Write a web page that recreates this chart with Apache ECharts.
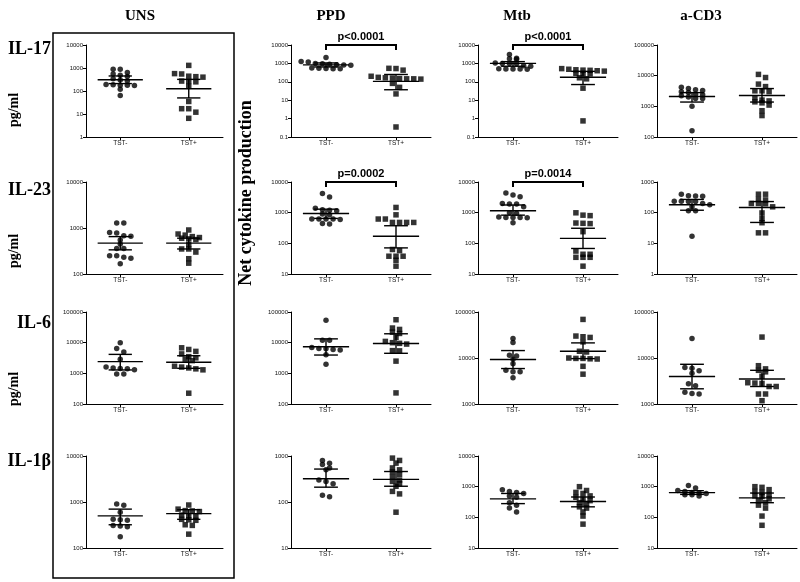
<!DOCTYPE html>
<html><head><meta charset="utf-8">
<script src="https://cdn.jsdelivr.net/npm/echarts@6/dist/echarts.min.js"></script>
<style>html,body{margin:0;padding:0;background:#fff}#c{width:800px;height:582px}</style>
</head><body><div id="c"></div>
<script>
const columns = ['UNS', 'PPD', 'Mtb', 'a-CD3'];
const cytokines = ['IL-17', 'IL-23', 'IL-6', 'IL-1β'];
const groups = ['TST-', 'TST+'];
const yMin = [[1, 0.1, 0.1, 100], [100, 10, 10, 1], [100, 100, 1000, 1000], [100, 10, 10, 10]];
const yMax = [[1e4, 1e4, 1e4, 1e5], [1e4, 1e4, 1e4, 1e3], [1e5, 1e5, 1e5, 1e5], [1e4, 1e3, 1e4, 1e4]];

// values per panel; *_bar = [centre, lower, upper]
const il17_uns_neg = [880, 880, 630, 550, 480, 430, 340, 300, 270, 190, 185, 180, 180, 175, 118, 63];
const il17_uns_pos = [1300, 570, 550, 440, 420, 400, 270, 260, 250, 160, 35, 17, 17, 12, 6.5];
const il17_uns_negBar = [310, 210, 450], il17_uns_posBar = [126, 50, 320];
const il17_ppd_neg = [2080, 1250, 1200, 1000, 950, 900, 850, 830, 800, 560, 540, 530, 520, 510];
const il17_ppd_pos = [540, 525, 430, 200, 175, 165, 160, 150, 145, 145, 140, 82, 50, 22, 0.35];
const il17_ppd_negBar = [830, 640, 1060], il17_ppd_posBar = [106, 37, 250];
const il17_mtb_neg = [3000, 1900, 1800, 1700, 1050, 1000, 1000, 950, 750, 700, 520, 500, 500, 490, 480];
const il17_mtb_pos = [520, 480, 450, 430, 420, 400, 380, 290, 280, 270, 165, 145, 45, 0.75];
const il17_mtb_negBar = [1000, 700, 1250], il17_mtb_posBar = [178, 71, 370];
const il17_cd3_neg = [4200, 3800, 3500, 3300, 3000, 2800, 2500, 2400, 2200, 2000, 1800, 1800, 1000, 160];
const il17_cd3_pos = [11000, 8700, 5300, 4400, 3200, 3200, 3000, 1900, 1600, 1500, 1400, 1300, 1100, 720, 500];
const il17_cd3_negBar = [2100, 1380, 2800], il17_cd3_posBar = [2250, 1380, 3800];

const il23_uns_neg = [1280, 1280, 800, 780, 680, 660, 550, 450, 360, 360, 250, 250, 230, 220, 167];
const il23_uns_pos = [905, 740, 700, 650, 620, 600, 580, 560, 435, 350, 350, 300, 215, 172];
const il23_uns_negBar = [470, 335, 650], il23_uns_posBar = [470, 350, 600];
const il23_ppd_neg = [4200, 3250, 1400, 1250, 1200, 1150, 900, 850, 620, 620, 620, 620, 600, 440, 425];
const il23_ppd_pos = [1480, 850, 620, 620, 480, 480, 480, 480, 63, 58, 38, 38, 38, 28, 18];
const il23_ppd_negBar = [940, 650, 1300], il23_ppd_posBar = [170, 71, 375];
const il23_mtb_neg = [4400, 3800, 3300, 2000, 1900, 1900, 1560, 1000, 950, 720, 700, 700, 700, 680, 470];
const il23_mtb_pos = [990, 830, 800, 460, 450, 440, 240, 56, 44, 44, 35, 35, 35, 18];
const il23_mtb_negBar = [1150, 830, 1780], il23_mtb_posBar = [145, 68, 310];
const il23_cd3_neg = [400, 355, 350, 340, 235, 235, 230, 230, 200, 180, 155, 115, 115, 17];
const il23_cd3_pos = [400, 400, 270, 260, 200, 200, 195, 155, 98, 65, 47, 22, 22];
const il23_cd3_negBar = [182, 120, 270], il23_cd3_posBar = [148, 48, 230];

const il6_uns_neg = [10000, 6500, 5000, 2900, 1600, 1500, 1450, 1400, 1300, 960, 950];
const il6_uns_pos = [6800, 6000, 5200, 4300, 3500, 3200, 2900, 2600, 1700, 1600, 1500, 1400, 1300, 225];
const il6_uns_negBar = [2400, 1290, 4150], il6_uns_posBar = [2300, 1460, 3750];
const il6_ppd_neg = [54000, 12000, 12000, 7000, 6500, 6300, 6000, 5800, 4000, 1960];
const il6_ppd_pos = [56000, 30000, 27000, 22000, 20000, 15000, 11000, 10000, 9500, 9000, 5500, 5400, 2500, 230];
const il6_ppd_negBar = [7400, 3950, 13300], il6_ppd_posBar = [9400, 4500, 19500];
const il6_mtb_neg = [26500, 21700, 11500, 11000, 9400, 7500, 5400, 5000, 5000, 3700];
const il6_mtb_pos = [69000, 30000, 29000, 28000, 22400, 14000, 13500, 10000, 9800, 9800, 9600, 9500, 6600, 4450];
const il6_mtb_negBar = [9300, 5900, 14500], il6_mtb_posBar = [14000, 9700, 21300];
const il6_cd3_neg = [26500, 6200, 6000, 5300, 4650, 2750, 2500, 1800, 1700, 1650];
const il6_cd3_pos = [28500, 6800, 5800, 5400, 5000, 4000, 2900, 2850, 2800, 2400, 2400, 1650, 1650, 1180];
const il6_cd3_negBar = [3950, 2140, 7300], il6_cd3_posBar = [3500, 2400, 5400];

const il1b_uns_neg = [900, 850, 600, 420, 410, 400, 310, 300, 290, 175];
const il1b_uns_pos = [860, 700, 650, 640, 620, 520, 500, 480, 420, 410, 400, 320, 310, 200];
const il1b_uns_negBar = [500, 320, 700], il1b_uns_posBar = [560, 420, 680];
const il1b_ppd_neg = [800, 700, 650, 550, 500, 300, 280, 250, 140, 130];
const il1b_ppd_pos = [900, 800, 700, 550, 500, 450, 400, 350, 300, 280, 250, 220, 170, 150, 60];
const il1b_ppd_negBar = [320, 210, 520], il1b_ppd_posBar = [310, 220, 460];
const il1b_mtb_neg = [800, 700, 650, 600, 500, 450, 300, 250, 200, 150];
const il1b_mtb_pos = [1000, 750, 650, 600, 500, 450, 400, 350, 300, 280, 220, 200, 150, 110, 60];
const il1b_mtb_negBar = [400, 280, 600], il1b_mtb_posBar = [330, 220, 460];
const il1b_cd3_neg = [1100, 900, 750, 700, 650, 620, 600, 550, 550, 500];
const il1b_cd3_pos = [1000, 950, 800, 700, 650, 550, 500, 480, 400, 350, 300, 250, 200, 110, 55];
const il1b_cd3_negBar = [640, 560, 740], il1b_cd3_posBar = [430, 300, 620];

const pValues = [
  { row: 0, col: 1, text: 'p<0.0001' },
  { row: 0, col: 2, text: 'p<0.0001' },
  { row: 1, col: 1, text: 'p=0.0002' },
  { row: 1, col: 2, text: 'p=0.0014' }
];

const panelData = [
  [[il17_uns_neg, il17_uns_pos, il17_uns_negBar, il17_uns_posBar], [il17_ppd_neg, il17_ppd_pos, il17_ppd_negBar, il17_ppd_posBar],
   [il17_mtb_neg, il17_mtb_pos, il17_mtb_negBar, il17_mtb_posBar], [il17_cd3_neg, il17_cd3_pos, il17_cd3_negBar, il17_cd3_posBar]],
  [[il23_uns_neg, il23_uns_pos, il23_uns_negBar, il23_uns_posBar], [il23_ppd_neg, il23_ppd_pos, il23_ppd_negBar, il23_ppd_posBar],
   [il23_mtb_neg, il23_mtb_pos, il23_mtb_negBar, il23_mtb_posBar], [il23_cd3_neg, il23_cd3_pos, il23_cd3_negBar, il23_cd3_posBar]],
  [[il6_uns_neg, il6_uns_pos, il6_uns_negBar, il6_uns_posBar], [il6_ppd_neg, il6_ppd_pos, il6_ppd_negBar, il6_ppd_posBar],
   [il6_mtb_neg, il6_mtb_pos, il6_mtb_negBar, il6_mtb_posBar], [il6_cd3_neg, il6_cd3_pos, il6_cd3_negBar, il6_cd3_posBar]],
  [[il1b_uns_neg, il1b_uns_pos, il1b_uns_negBar, il1b_uns_posBar], [il1b_ppd_neg, il1b_ppd_pos, il1b_ppd_negBar, il1b_ppd_posBar],
   [il1b_mtb_neg, il1b_mtb_pos, il1b_mtb_negBar, il1b_mtb_posBar], [il1b_cd3_neg, il1b_cd3_pos, il1b_cd3_negBar, il1b_cd3_posBar]]
];

// ---- layout ----
const colLeft = [86, 291, 478, 657];
const colWidth = [137, 140, 140, 140];
const rowTop = [45, 182, 312, 456];
const rowH = 92;
const SYM = 5.5;
const SANS = '"Liberation Sans", Arial, sans-serif';
const SERIF = '"Liberation Serif", "Times New Roman", serif';

// GraphPad-like row spreading of points that share nearly the same height (layout only)
function swarm(values, pxPerDecade, spacingPx) {
  const items = values.map((v, i) => ({ i, y: Math.log10(v) * pxPerDecade })).sort((a, b) => b.y - a.y);
  const rows = [];
  let cur = null;
  for (const it of items) {
    if (!cur || cur[0].y - it.y > SYM * 0.72) { cur = [it]; rows.push(cur); } else cur.push(it);
  }
  const out = new Array(values.length).fill(0);
  const gap = SYM + 1.6;
  rows.forEach(row => {
    const n = row.length;
    row.forEach((it, j) => { out[it.i] = ((j - (n - 1) / 2) * gap) / spacingPx; });
  });
  return out;
}

function fmt(v) { return String(Number(v.toPrecision(6))); }

const grids = [], xAxes = [], yAxes = [], series = [];
for (let r = 0; r < 4; r++) {
  for (let c = 0; c < 4; c++) {
    const k = r * 4 + c;
    grids.push({ left: colLeft[c], top: rowTop[r], width: colWidth[c], height: rowH });
    xAxes.push({
      gridIndex: k, type: 'value', min: 0.5, max: 2.5,
      axisLine: { show: true, onZero: false, lineStyle: { color: '#000', width: 1 } },
      axisTick: { show: true, customValues: [1, 2], length: 3, lineStyle: { color: '#000' } },
      axisLabel: { show: true, customValues: [1, 2], formatter: v => groups[Math.round(v) - 1], fontSize: 6.5, fontFamily: SANS, color: '#111', margin: 3 },
      splitLine: { show: false }
    });
    yAxes.push({
      gridIndex: k, type: 'log', logBase: 10, min: yMin[r][c], max: yMax[r][c],
      axisLine: { show: true, lineStyle: { color: '#000', width: 1 } },
      axisTick: { show: true, length: 3, lineStyle: { color: '#000' } },
      axisLabel: { show: true, formatter: fmt, fontSize: 6, fontFamily: SANS, color: '#111', margin: 3 },
      splitLine: { show: false }, minorTick: { show: false }
    });
    const [neg, pos, negBar, posBar] = panelData[r][c];
    const pxDec = rowH / (Math.log10(yMax[r][c]) - Math.log10(yMin[r][c]));
    const sp = colWidth[c] / 2;
    const offN = swarm(neg, pxDec, sp), offP = swarm(pos, pxDec, sp);
    series.push({
      type: 'scatter', xAxisIndex: k, yAxisIndex: k, symbol: 'circle', symbolSize: SYM,
      itemStyle: { color: '#000' }, silent: true,
      data: neg.map((v, i) => [1 + offN[i], v])
    });
    series.push({
      type: 'scatter', xAxisIndex: k, yAxisIndex: k, symbol: 'rect', symbolSize: SYM,
      itemStyle: { color: '#000' }, silent: true,
      data: pos.map((v, i) => [2 + offP[i], v])
    });
    series.push({
      type: 'custom', xAxisIndex: k, yAxisIndex: k, silent: true, z: 5, clip: false,
      data: [[1, negBar[0], negBar[1], negBar[2]], [2, posBar[0], posBar[1], posBar[2]]],
      renderItem: (params, api) => {
        const x = api.value(0), m = api.value(1), lo = api.value(2), hi = api.value(3);
        const mL = api.coord([x - 0.33, m]), mR = api.coord([x + 0.33, m]);
        const lL = api.coord([x - 0.17, lo]), lR = api.coord([x + 0.17, lo]);
        const hL = api.coord([x - 0.17, hi]), hR = api.coord([x + 0.17, hi]);
        const vT = api.coord([x, hi]), vB = api.coord([x, lo]);
        const st = { stroke: '#000', lineWidth: 1.4 };
        return {
          type: 'group', children: [
            { type: 'line', shape: { x1: mL[0], y1: mL[1], x2: mR[0], y2: mR[1] }, style: st },
            { type: 'line', shape: { x1: lL[0], y1: lL[1], x2: lR[0], y2: lR[1] }, style: st },
            { type: 'line', shape: { x1: hL[0], y1: hL[1], x2: hR[0], y2: hR[1] }, style: st },
            { type: 'line', shape: { x1: vT[0], y1: vT[1], x2: vB[0], y2: vB[1] }, style: st }
          ]
        };
      }
    });
    const pv = pValues.find(p => p.row === r && p.col === c);
    if (pv) {
      series.push({
        type: 'custom', xAxisIndex: k, yAxisIndex: k, silent: true, z: 6, clip: false,
        data: [[1, 2, yMax[r][c]]],
        renderItem: (params, api) => {
          const a = api.coord([api.value(0), api.value(2)]);
          const b = api.coord([api.value(1), api.value(2)]);
          const st = { stroke: '#000', lineWidth: 2, fill: null };
          return {
            type: 'group', children: [
              { type: 'polyline', shape: { points: [[a[0], a[1] + 5], [a[0], a[1]], [b[0], b[1]], [b[0], b[1] + 5]] }, style: st },
              { type: 'text', style: { text: pv.text, x: (a[0] + b[0]) / 2, y: a[1] - 8, align: 'center', verticalAlign: 'middle', font: 'bold 11px ' + SANS, fill: '#000' } }
            ]
          };
        }
      });
    }
  }
}

const colTitleX = [140, 331, 517, 701];
const rowLabelY = [49, 190, 323, 461];
const graphic = [
  { type: 'rect', shape: { x: 53, y: 33, width: 181, height: 545 }, style: { fill: 'none', stroke: '#000', lineWidth: 1.5 }, silent: true }
];
columns.forEach((t, i) => graphic.push({ type: 'text', x: colTitleX[i], y: 16, style: { text: t, align: 'center', verticalAlign: 'middle', font: 'bold 15px ' + SERIF, fill: '#000' } }));
cytokines.forEach((t, i) => graphic.push({ type: 'text', x: 51, y: rowLabelY[i], style: { text: t, align: 'right', verticalAlign: 'middle', font: 'bold 18px ' + SERIF, fill: '#000' } }));
[110, 251, 389].forEach(y => graphic.push({ type: 'text', x: 14, y, rotation: Math.PI / 2, style: { text: 'pg/ml', align: 'center', verticalAlign: 'middle', font: 'bold 14px ' + SERIF, fill: '#000' } }));
graphic.push({ type: 'text', x: 246, y: 193, rotation: Math.PI / 2, style: { text: 'Net cytokine production', align: 'center', verticalAlign: 'middle', font: 'bold 18px ' + SERIF, fill: '#000' } });

const chart = echarts.init(document.getElementById('c'), null, { renderer: 'canvas' });
chart.setOption({
  animation: false,
  backgroundColor: '#fff',
  grid: grids, xAxis: xAxes, yAxis: yAxes, series, graphic
});
</script></body></html>
